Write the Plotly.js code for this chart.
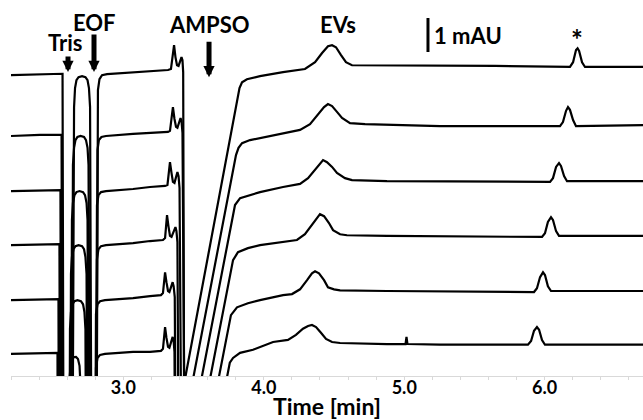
<!DOCTYPE html>
<html>
<head>
<meta charset="utf-8">
<script src="https://cdn.plot.ly/plotly-3.0.1.min.js"></script>
<style>html,body{margin:0;padding:0;background:#fff;}#chart{width:643px;height:420px;}</style>
</head>
<body>
<div id="chart"></div>
<script>
// Electropherograms (6 runs), time in min, signal in mAU relative to each run's baseline
const time1 = [2.200,2.406,2.567,2.574,2.638,2.649,2.656,2.666,2.681,2.706,2.730,2.745,2.755,2.763,2.773,2.809,2.819,2.830,2.848,2.884,3.069,3.190,3.318,3.339,3.350,3.361,3.371,3.382,3.393,3.403,3.414,3.421,3.426,3.432,3.771,3.827,3.845,3.880,3.973,4.137,4.293,4.365,4.415,4.457,4.486,4.514,4.550,4.585,4.628,4.877,5.646,6.180,6.202,6.223,6.234,6.245,6.266,6.287,6.700];
const signal1 = [-0.03,0,0.01,-12,-12,-0.97,-0.41,-0.18,-0.09,-0.06,-0.09,-0.18,-0.41,-0.97,-12,-12,-0.47,-0.15,-0.03,0,0.06,0.09,0.12,0.15,0.47,0.85,0.50,0.26,0.24,0.38,0.50,0.41,0.06,-9.12,-1.65,-0.41,-0.24,-0.15,-0.06,0.06,0.15,0.35,0.62,0.82,0.85,0.79,0.56,0.35,0.26,0.26,0.24,0.21,0.35,0.71,0.76,0.68,0.35,0.21,0.21];

const time2 = [2.200,2.406,2.560,2.567,2.631,2.641,2.649,2.659,2.673,2.695,2.720,2.734,2.745,2.752,2.763,2.805,2.816,2.826,2.844,2.876,3.069,3.190,3.318,3.332,3.343,3.353,3.364,3.375,3.385,3.396,3.407,3.414,3.421,3.435,3.802,3.820,3.845,3.902,3.973,4.137,4.258,4.329,4.386,4.429,4.457,4.486,4.521,4.557,4.614,4.721,5.255,6.109,6.130,6.152,6.166,6.180,6.202,6.223,6.700];
const signal2 = [-0.03,0,0,-12,-12,-0.88,-0.38,-0.15,-0.06,-0.03,-0.06,-0.15,-0.38,-0.88,-12,-12,-0.44,-0.15,-0.06,-0.03,0.03,0.06,0.09,0.12,0.44,0.82,0.47,0.24,0.21,0.38,0.50,0.41,0.06,-8.50,-0.59,-0.38,-0.24,-0.15,-0.09,0.06,0.15,0.32,0.59,0.82,0.91,0.85,0.68,0.50,0.35,0.32,0.26,0.26,0.38,0.71,0.82,0.74,0.44,0.26,0.29];

const time3 = [2.200,2.406,2.552,2.560,2.624,2.634,2.641,2.652,2.666,2.688,2.713,2.727,2.738,2.745,2.755,2.801,2.812,2.823,2.841,2.876,3.069,3.190,3.297,3.314,3.325,3.332,3.343,3.353,3.364,3.375,3.385,3.393,3.400,3.414,3.777,3.795,3.831,3.902,3.973,4.137,4.258,4.315,4.365,4.400,4.422,4.450,4.486,4.521,4.578,4.628,4.877,6.038,6.059,6.081,6.102,6.116,6.138,6.159,6.700];
const signal3 = [-0.03,0,0,-12,-12,-0.88,-0.38,-0.15,-0.06,-0.03,-0.06,-0.15,-0.38,-0.88,-12,-12,-0.44,-0.15,-0.06,-0.03,0.03,0.09,0.12,0.15,0.47,0.82,0.50,0.24,0.21,0.38,0.53,0.41,0.06,-8.59,-0.74,-0.44,-0.24,-0.15,-0.06,0.09,0.18,0.35,0.59,0.79,0.88,0.82,0.68,0.50,0.35,0.29,0.26,0.24,0.35,0.68,0.79,0.71,0.41,0.26,0.26];

const time4 = [2.200,2.406,2.545,2.552,2.617,2.627,2.634,2.645,2.659,2.681,2.706,2.720,2.730,2.738,2.748,2.801,2.812,2.823,2.841,2.876,3.069,3.190,3.282,3.297,3.304,3.311,3.321,3.332,3.343,3.357,3.371,3.378,3.385,3.396,3.763,3.781,3.816,3.887,3.973,4.137,4.236,4.293,4.343,4.379,4.400,4.429,4.464,4.493,4.543,4.592,4.877,5.981,6.002,6.023,6.045,6.059,6.081,6.102,6.700];
const signal4 = [-0.03,0,0,-12,-12,-0.88,-0.38,-0.15,-0.06,-0.03,-0.06,-0.15,-0.38,-0.88,-12,-12,-0.44,-0.15,-0.06,-0.03,0.03,0.09,0.12,0.18,0.53,0.85,0.53,0.24,0.21,0.35,0.50,0.38,0.06,-8.68,-0.76,-0.47,-0.24,-0.12,-0.03,0.06,0.12,0.29,0.56,0.79,0.88,0.82,0.62,0.41,0.29,0.26,0.24,0.21,0.32,0.65,0.79,0.71,0.38,0.24,0.24];

const time5 = [2.200,2.406,2.538,2.545,2.610,2.620,2.627,2.638,2.652,2.673,2.698,2.713,2.723,2.730,2.741,2.794,2.805,2.816,2.834,2.869,3.069,3.190,3.268,3.282,3.289,3.297,3.307,3.318,3.328,3.339,3.351,3.358,3.366,3.378,3.749,3.766,3.809,3.887,3.973,4.137,4.201,4.258,4.308,4.343,4.365,4.393,4.429,4.457,4.500,4.543,4.877,5.924,5.945,5.967,5.988,6.002,6.023,6.045,6.700];
const signal5 = [-0.03,0,0,-12,-12,-0.88,-0.38,-0.15,-0.06,-0.03,-0.06,-0.15,-0.38,-0.88,-12,-12,-0.44,-0.15,-0.06,-0.03,0.03,0.09,0.12,0.18,0.50,0.79,0.50,0.24,0.21,0.35,0.50,0.38,0.06,-8.71,-0.76,-0.47,-0.24,-0.12,-0.03,0.12,0.15,0.29,0.56,0.76,0.82,0.76,0.56,0.35,0.29,0.26,0.24,0.21,0.32,0.65,0.79,0.71,0.38,0.24,0.24];

const time6 = [2.200,2.406,2.531,2.538,2.602,2.613,2.620,2.627,2.641,2.663,2.677,2.688,2.695,2.706,2.794,2.805,2.816,2.834,2.869,3.069,3.190,3.268,3.282,3.289,3.297,3.307,3.318,3.328,3.339,3.351,3.358,3.364,3.375,3.738,3.758,3.781,3.831,3.923,4.066,4.172,4.229,4.279,4.315,4.343,4.372,4.407,4.443,4.486,4.543,4.877,5.009,5.016,5.023,5.255,5.881,5.903,5.924,5.945,5.960,5.981,6.002,6.700];
const signal6 = [-0.03,0,0,-12,-12,-0.97,-0.47,-0.24,-0.13,-0.12,-0.18,-0.38,-0.97,-12,-12,-0.44,-0.15,-0.06,-0.03,0.03,0.03,0.06,0.12,0.44,0.76,0.44,0.18,0.15,0.32,0.47,0.35,0.03,-8.47,-0.68,-0.29,-0.15,0,0.09,0.32,0.38,0.53,0.71,0.79,0.82,0.76,0.59,0.41,0.32,0.29,0.26,0.26,0.47,0.26,0.24,0.24,0.35,0.65,0.76,0.68,0.38,0.24,0.24];

// vertical stacking offsets of the runs (mAU)
const offsets = [8.88, 7.09, 5.47, 3.88, 2.26, 0.68];

// axis / labels
const xTitle = 'Time [min]';
const tickValues = [3, 4, 5, 6];
const tickLabels = ['3.0', '4.0', '5.0', '6.0'];
const peakLabels = ['Tris', 'EOF', 'AMPSO', 'EVs', '*'];
const scaleLabel = '1 mAU';
const scaleBarMAU = 1;

const times = [time1, time2, time3, time4, time5, time6];
const signals = [signal1, signal2, signal3, signal4, signal5, signal6];

const data = times.map((t, i) => ({
  x: t,
  y: signals[i].map(v => v + offsets[i]),
  type: 'scatter',
  mode: 'lines',
  line: {color: '#000', width: 2.2},
  hoverinfo: 'skip'
}));

const FAM = 'Lato, "Open Sans", sans-serif';
const F = {family: FAM, size: 22, color: '#000', weight: 'bold'};
const arrowBase = {showarrow: true, text: '', arrowhead: 2, arrowwidth: 5, arrowsize: 0.45, arrowcolor: '#000', axref: 'pixel', ayref: 'pixel', ax: 0, standoff: 0};

const annotations = [
  {x: 2.588, y: 9.80, text: peakLabels[0], showarrow: false, font: F},
  {x: 2.791, y: 10.40, text: peakLabels[1], showarrow: false, font: F},
  {x: 3.613, y: 10.34, text: peakLabels[2], showarrow: false, font: F},
  {x: 4.530, y: 10.33, text: peakLabels[3], showarrow: false, font: F},
  {x: 6.230, y: 9.92, text: peakLabels[4], showarrow: false, font: {family: FAM, size: 28, color: '#000', weight: 'bold'}},
  {x: 5.455, y: 10.03, text: scaleLabel, showarrow: false, font: F},
  Object.assign({x: 2.606, y: 8.94, ay: -17}, arrowBase),
  Object.assign({x: 2.791, y: 8.94, ay: -39}, arrowBase),
  Object.assign({x: 3.610, y: 8.79, ay: -37}, arrowBase)
];

const layout = {
  width: 643, height: 420,
  margin: {l: 11, r: 0, t: 0, b: 44},
  paper_bgcolor: '#fff', plot_bgcolor: '#fff',
  showlegend: false,
  xaxis: {
    range: [2.2, 6.7],
    showline: true, linecolor: '#d9d9d9', linewidth: 1,
    showgrid: false, zeroline: false,
    ticks: 'outside', ticklen: 3, tickwidth: 1, tickcolor: '#d9d9d9',
    tickmode: 'array', tickvals: tickValues, ticktext: tickLabels.map(s => '<b>' + s + '</b>'),
    ticklabelstandoff: -8,
    tickfont: {family: FAM, size: 18, color: '#000', weight: 'bold'},
    minor: {dtick: 0.2, tick0: 0, ticks: 'outside', ticklen: 3, tickcolor: '#d9d9d9', showgrid: false},
    title: {text: '<b>' + xTitle + '</b>', font: {family: FAM, size: 23, color: '#000', weight: 'bold'}, standoff: 0},
    fixedrange: true
  },
  yaxis: {range: [0, 11.06], visible: false, fixedrange: true},
  annotations: annotations,
  shapes: [
    {type: 'line', xref: 'x', yref: 'y', x0: 5.169, x1: 5.169, y0: 9.53, y1: 9.53 + scaleBarMAU, line: {color: '#000', width: 3}}
  ]
};

Plotly.newPlot('chart', data, layout, {staticPlot: true, displayModeBar: false});
</script>
</body>
</html>
